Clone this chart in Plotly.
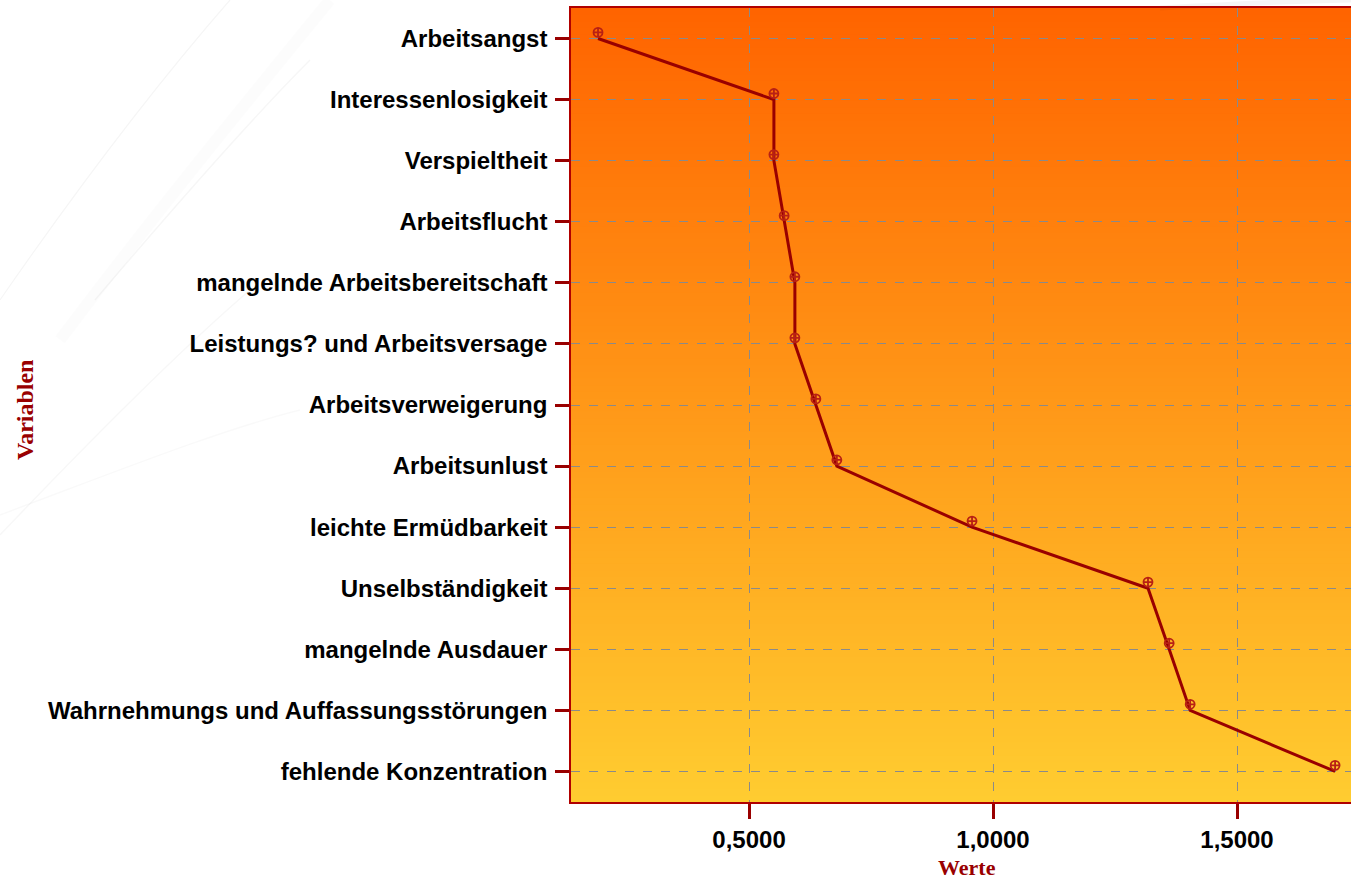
import plotly.graph_objects as go

# Variables (top to bottom) and their values
variablen = [
    "Arbeitsangst",
    "Interessenlosigkeit",
    "Verspieltheit",
    "Arbeitsflucht",
    "mangelnde Arbeitsbereitschaft",
    "Leistungs? und Arbeitsversage",
    "Arbeitsverweigerung",
    "Arbeitsunlust",
    "leichte Ermüdbarkeit",
    "Unselbständigkeit",
    "mangelnde Ausdauer",
    "Wahrnehmungs und Auffassungsstörungen",
    "fehlende Konzentration",
]
werte = [0.1906, 0.5510, 0.5510, 0.5720, 0.5940, 0.5940, 0.6370,
         0.6800, 0.9570, 1.3176, 1.3610, 1.4040, 1.7010]
x_ticks = [0.5, 1.0, 1.5]

DARK_RED = "#990000"
W, H = 1351, 881
ML, MR, MT, MB = 571, 0, 8, 79
PW, PH = W - ML - MR, H - MT - MB
n = len(variablen)


def px_to_paper(x, y):
    """Page pixel position -> paper coordinates of the plotting area."""
    return (x - ML) / PW, (H - MB - y) / PH


fig = go.Figure()

# connecting line
fig.add_trace(go.Scatter(
    x=werte, y=variablen, mode="lines",
    line=dict(color=DARK_RED, width=3),
    hoverinfo="skip", showlegend=False,
))
# point markers, drawn slightly raised on an overlaid axis
fig.add_trace(go.Scatter(
    x=werte, y=variablen, mode="markers", yaxis="y2",
    marker=dict(symbol="circle-cross-open", size=9,
                color="#B82014", line=dict(width=1.8, color="#B82014")),
    showlegend=False,
))

# vertical gradient for the plotting area
top = (255, 100, 0)
bot = (255, 204, 48)
bands = 120
shapes = []
for i in range(bands):
    t = i / (bands - 1)
    c = tuple(round(top[k] + (bot[k] - top[k]) * t) for k in range(3))
    y1 = 1 - i / bands
    y0 = 1 - (i + 1) / bands - 0.002
    shapes.append(dict(
        type="rect", xref="x domain", yref="y domain",
        x0=0, x1=1, y0=max(y0, 0), y1=y1,
        fillcolor="rgb(%d,%d,%d)" % c, line=dict(width=0), layer="below",
    ))

# faint swooshes on the page background (page pixel coordinates)
swooshes = [
    ([(0, 300), (90, 170), (160, 80), (230, 0)], 1.2, "rgba(0,0,0,0.04)"),
    ([(60, 340), (150, 220), (240, 110), (330, 0)], 12, "rgba(0,0,0,0.012)"),
    ([(95, 300), (180, 200), (250, 120), (310, 60)], 1.5, "rgba(0,0,0,0.035)"),
    ([(0, 535), (100, 430), (180, 350), (250, 290)], 1.5, "rgba(0,0,0,0.03)"),
    ([(0, 515), (120, 470), (220, 430), (300, 410)], 1.5, "rgba(0,0,0,0.025)"),
    ([(1160, 8), (1230, 4), (1290, 1), (1351, 0)], 5, "rgba(0,0,0,0.04)"),
]
for pts, w, col in swooshes:
    p = [px_to_paper(x, y) for x, y in pts]
    path = "M %.4f %.4f C %.4f %.4f, %.4f %.4f, %.4f %.4f" % (
        p[0][0], p[0][1], p[1][0], p[1][1], p[2][0], p[2][1], p[3][0], p[3][1])
    shapes.append(dict(type="path", xref="paper", yref="paper", path=path,
                       line=dict(width=w, color=col), layer="below"))

tick_font = dict(family="Liberation Sans, Arial", size=24,
                 color="black", weight="bold")
title_font = dict(family="Liberation Serif, Times New Roman",
                  size=22, color=DARK_RED)
ytitle_font = dict(title_font, size=24)

wx, wy = px_to_paper(967, 867)
vx, vy = px_to_paper(25, 410)

fig.update_layout(
    width=W, height=H,
    margin=dict(l=ML, r=MR, t=MT, b=MB),
    paper_bgcolor="white",
    plot_bgcolor="rgba(0,0,0,0)",
    separators=",.",
    shapes=shapes,
    xaxis=dict(
        range=[0.1352, 1.7336],
        tickvals=x_ticks, tickformat=".4f",
        ticks="outside", ticklen=15, tickwidth=3, tickcolor=DARK_RED,
        tickfont=tick_font,
        showgrid=True, gridcolor="#8a8a8a", gridwidth=1, griddash="dash",
        showline=True, linecolor="#B00000", linewidth=1.5, mirror=True,
        zeroline=False,
    ),
    yaxis=dict(
        type="category", categoryorder="array", categoryarray=variablen,
        range=[n - 0.5, -0.5],
        ticks="outside", ticklen=14, tickwidth=3, tickcolor=DARK_RED,
        tickfont=tick_font,
        ticklabelstandoff=3,
        showgrid=True, gridcolor="#8a8a8a", gridwidth=1, griddash="dash",
        showline=True, linecolor="#B00000", linewidth=1.5, mirror=False,
        zeroline=False,
    ),
    yaxis2=dict(
        type="category", categoryorder="array", categoryarray=variablen,
        range=[n - 0.4, -0.4], overlaying="y", visible=False,
    ),
    annotations=[
        dict(text="<b>Werte</b>", xref="paper", yref="paper",
             x=wx, y=wy, xanchor="center", yanchor="middle",
             showarrow=False, font=title_font),
        dict(text="<b>Variablen</b>", xref="paper", yref="paper",
             x=vx, y=vy, xanchor="center", yanchor="middle",
             textangle=-90, showarrow=False, font=ytitle_font),
    ],
)

fig.write_html("out.html")
